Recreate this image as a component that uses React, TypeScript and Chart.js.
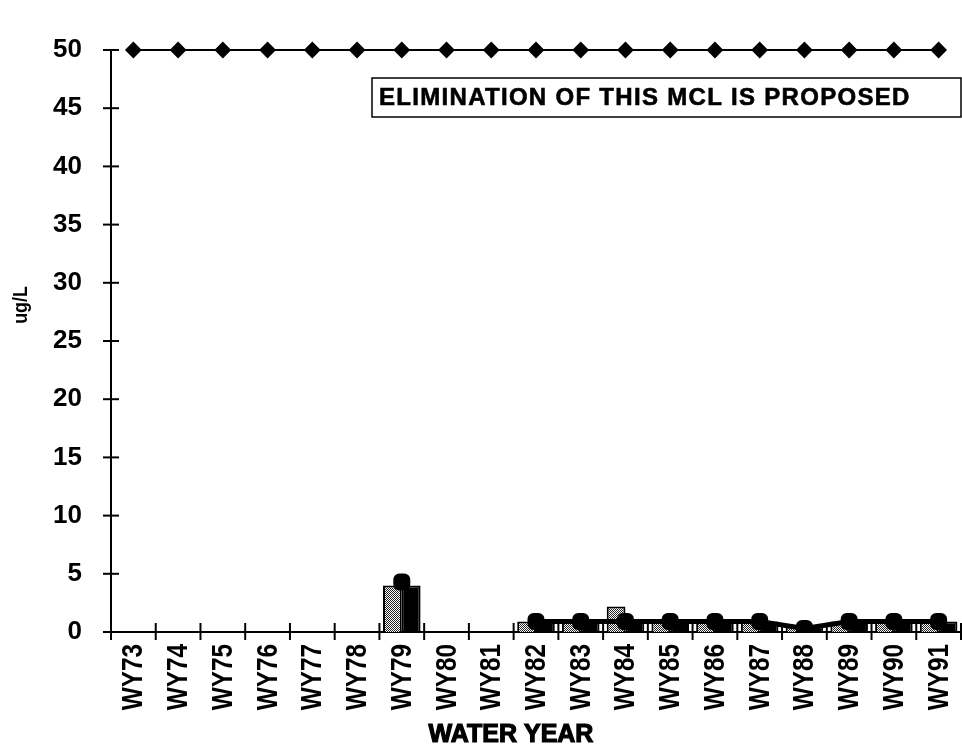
import React, { useEffect, useRef } from 'react';
import { Chart, registerables } from 'chart.js';

Chart.register(...registerables);

const categories = ['WY73', 'WY74', 'WY75', 'WY76', 'WY77', 'WY78', 'WY79', 'WY80', 'WY81', 'WY82', 'WY83', 'WY84', 'WY85', 'WY86', 'WY87', 'WY88', 'WY89', 'WY90', 'WY91'];
const mclValues = [50, 50, 50, 50, 50, 50, 50, 50, 50, 50, 50, 50, 50, 50, 50, 50, 50, 50, 50];
const stippledValues = [null, null, null, null, null, null, 4.0, null, null, 0.9, 0.9, 2.2, 0.9, 0.9, 0.9, 0.5, 0.9, 0.9, 0.9];
const blackValues = [null, null, null, null, null, null, 4.0, null, null, 0.9, 0.9, 0.9, 0.9, 0.9, 0.9, 0.5, 0.9, 0.9, 0.9];
const maxValues = [null, null, null, null, null, null, 4.3, null, null, 0.9, 0.9, 0.9, 0.9, 0.9, 0.9, 0.3, 0.9, 0.9, 0.9];
const yTicks = [0, 5, 10, 15, 20, 25, 30, 35, 40, 45, 50];
const noteText = 'ELIMINATION OF THIS MCL IS PROPOSED';
const xTitle = 'WATER YEAR';
const yTitle = 'ug/L';

const SANS = "'Liberation Sans', Arial, Helvetica, sans-serif";

const overlayPlugin = {
  id: 'overlay',
  afterDraw(chart: any) {
    const { ctx, chartArea, scales } = chart;
    const y = scales.y;
    const x = scales.x;
    ctx.save();
    ctx.strokeStyle = '#000';
    ctx.fillStyle = '#000';
    ctx.lineWidth = 2;
    // crossing y ticks
    yTicks.forEach((v) => {
      const py = y.getPixelForValue(v);
      ctx.beginPath();
      ctx.moveTo(chartArea.left - 8, py);
      ctx.lineTo(chartArea.left + 8, py);
      ctx.stroke();
    });
    // crossing x ticks at category boundaries
    const n = categories.length;
    const w = (chartArea.right - chartArea.left) / n;
    for (let i = 0; i <= n; i++) {
      const px = chartArea.left + i * w;
      ctx.beginPath();
      ctx.moveTo(px, chartArea.bottom - 9);
      ctx.lineTo(px, chartArea.bottom + 8);
      ctx.stroke();
    }
    // condensed rotated category labels
    ctx.font = `bold 29px ${SANS}`;
    categories.forEach((c, i) => {
      const cx = x.getPixelForValue(i);
      ctx.save();
      ctx.translate(cx, chartArea.bottom + 12);
      ctx.rotate(-Math.PI / 2);
      ctx.scale(0.84, 1);
      ctx.textAlign = 'right';
      ctx.textBaseline = 'middle';
      ctx.fillText(c, 0, 1);
      ctx.restore();
    });
    // y title
    ctx.save();
    ctx.font = `bold 21px ${SANS}`;
    ctx.translate(21, 305);
    ctx.rotate(-Math.PI / 2);
    ctx.scale(0.85, 1);
    ctx.textAlign = 'center';
    ctx.textBaseline = 'middle';
    ctx.fillText(yTitle, 0, 0);
    ctx.restore();
    // note box
    ctx.lineWidth = 1.5;
    ctx.strokeRect(372, 78, 589, 39);
    ctx.font = `bold 24px ${SANS}`;
    (ctx as any).letterSpacing = '1.3px';
    ctx.textAlign = 'left';
    ctx.textBaseline = 'middle';
    ctx.lineWidth = 0.6;
    ctx.fillText(noteText, 379, 98);
    ctx.strokeText(noteText, 379, 98);
    (ctx as any).letterSpacing = '0px';
    // x title
    ctx.font = `bold 25px ${SANS}`;
    ctx.textAlign = 'center';
    ctx.textBaseline = 'middle';
    ctx.lineWidth = 1.2;
    ctx.fillText(xTitle, 511, 735);
    ctx.strokeText(xTitle, 511, 735);
    ctx.restore();
  },
};

export default function App() {
  const ref = useRef<HTMLCanvasElement | null>(null);

  useEffect(() => {
    if (!ref.current) return;
    const pc = document.createElement('canvas');
    pc.width = 2;
    pc.height = 2;
    const pctx = pc.getContext('2d')!;
    pctx.fillStyle = '#ffffff';
    pctx.fillRect(0, 0, 2, 2);
    pctx.fillStyle = '#222222';
    pctx.fillRect(0, 0, 1, 1);
    pctx.fillRect(1, 1, 1, 1);
    const stipple = pctx.createPattern(pc, 'repeat')!;

    const chart = new Chart(ref.current, {
      type: 'bar',
      data: {
        labels: categories,
        datasets: [
          {
            type: 'line',
            label: 'MCL',
            data: mclValues,
            borderColor: '#000',
            borderWidth: 2,
            pointStyle: 'rectRot',
            pointRadius: 7,
            pointBackgroundColor: '#000',
            pointBorderColor: '#000',
            clip: false,
            order: 0,
          } as any,
          {
            type: 'line',
            label: 'Maximum',
            data: maxValues,
            borderColor: '#000',
            borderWidth: 5,
            pointStyle: 'rectRounded',
            pointRadius: 7,
            pointBackgroundColor: '#000',
            pointBorderColor: '#000',
            spanGaps: false,
            order: 1,
          } as any,
          {
            type: 'bar',
            label: 'Mean',
            data: stippledValues,
            backgroundColor: stipple,
            borderColor: '#000',
            borderWidth: 2,
            categoryPercentage: 0.84,
            barPercentage: 1,
            order: 2,
          } as any,
          {
            type: 'bar',
            label: 'Median',
            data: blackValues,
            backgroundColor: '#000',
            borderColor: '#000',
            borderWidth: 2,
            categoryPercentage: 0.84,
            barPercentage: 1,
            order: 2,
          } as any,
        ],
      },
      options: {
        responsive: false,
        animation: false,
        devicePixelRatio: 1,
        layout: { autoPadding: false, padding: { top: 50, right: 1, left: 0, bottom: 0 } },
        plugins: { legend: { display: false }, tooltip: { enabled: false } },
        scales: {
          x: {
            grid: { display: false },
            border: { display: true, color: '#000', width: 2 },
            ticks: { display: false },
            afterFit: (scale: any) => {
              scale.height = 117;
            },
          },
          y: {
            min: 0,
            max: 50,
            grid: { display: false },
            border: { display: true, color: '#000', width: 2 },
            ticks: {
              stepSize: 5,
              padding: 21,
              color: '#000',
              font: { family: SANS, size: 26, weight: 'bold' },
            },
            afterFit: (scale: any) => {
              scale.width = 111;
            },
          },
        },
      } as any,
      plugins: [overlayPlugin],
    });
    return () => chart.destroy();
  }, []);

  return (
    <div style={{ position: 'absolute', left: 0, top: 0, width: 962, height: 749, background: '#fff' }}>
      <canvas ref={ref} width={962} height={749} />
    </div>
  );
}
